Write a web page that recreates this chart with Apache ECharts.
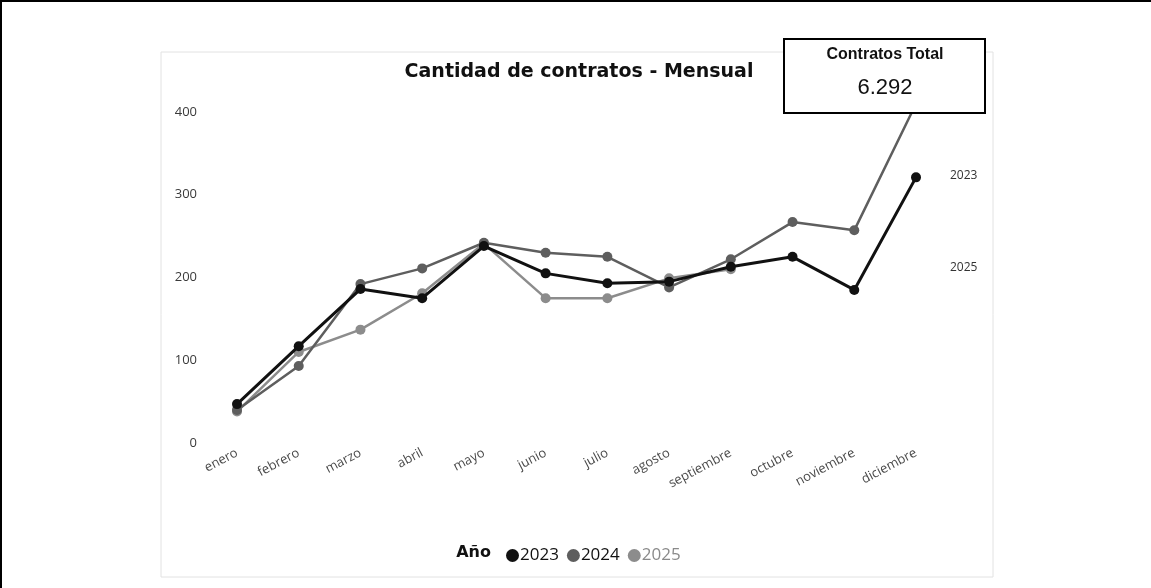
<!DOCTYPE html>
<html>
<head>
<meta charset="utf-8">
<script src="https://cdn.jsdelivr.net/npm/echarts@6/dist/echarts.min.js"></script>
<style>
  html, body { margin: 0; padding: 0; background: #fff; }
  #chart { width: 1151px; height: 588px; }
</style>
</head>
<body>
<div id="chart"></div>
<script>
// Contratos por mes, por año
const months = ['enero', 'febrero', 'marzo', 'abril', 'mayo', 'junio', 'julio',
  'agosto', 'septiembre', 'octubre', 'noviembre', 'diciembre'];
const years = ['2023', '2024', '2025'];
const values2023 = [47, 117, 186, 175, 238, 205, 193, 195, 213, 225, 185, 321];
const values2024 = [40, 93, 192, 211, 242, 230, 225, 188, 222, 267, 257, 410];
const values2025 = [38, 110, 137, 181, 241, 175, 175, 199, 210];
const yTicks = [0, 100, 200, 300, 400];
const totalLabel = 'Contratos Total';
const totalValue = '6.292';

const seriesValues = [values2023, values2024, values2025];
const colors = ['#111111', '#5e5e5e', '#8c8c8c'];
const widths = [3, 2.5, 2.5];
const font = '"Open Sans", "Noto Sans", sans-serif';

const chart = echarts.init(document.getElementById('chart'));

const option = {
  animation: false,
  backgroundColor: '#fff',
  grid: { left: 237, right: 235, top: 112, bottom: 145, containLabel: false },
  xAxis: {
    type: 'category',
    data: months,
    boundaryGap: false,
    axisLine: { show: false },
    axisTick: { show: false },
    axisLabel: {
      rotate: 28, margin: 9, color: '#4a4a4a', fontSize: 13, fontFamily: font
    },
    splitLine: { show: false }
  },
  yAxis: {
    type: 'value',
    min: yTicks[0],
    max: yTicks[yTicks.length - 1],
    interval: yTicks[1] - yTicks[0],
    axisLine: { show: false },
    axisTick: { show: false },
    splitLine: { show: false },
    axisLabel: { margin: 40, color: '#3a3a3a', fontSize: 13, fontFamily: font }
  },
  legend: {
    top: 542,
    left: 501,
    icon: 'circle',
    itemWidth: 13,
    itemHeight: 13,
    itemGap: 8,
    textStyle: { fontSize: 17, fontFamily: font, color: '#111', padding: [0, 0, 0, -4] },
    data: [
      { name: '2023' },
      { name: '2024' },
      { name: '2025', textStyle: { color: '#8a8a8a' } }
    ]
  },
  series: years.map((y, i) => ({
    name: y,
    type: 'line',
    data: seriesValues[i],
    clip: false,
    symbol: 'circle',
    symbolSize: 10,
    showAllSymbol: true,
    color: colors[i],
    lineStyle: { width: widths[i], color: colors[i] },
    itemStyle: { color: colors[i] },
    z: 10 - i
  }))
};
chart.setOption(option);

// Year names at the right edge, at the height of each series' last value
const endLabels = years.map((y, i) => {
  const vals = seriesValues[i];
  const py = chart.convertToPixel({ yAxisIndex: 0 }, vals[vals.length - 1]);
  return {
    type: 'text', left: 950, top: py - 8, z: 20,
    style: { text: y, fill: '#333', font: '12px ' + font }
  };
});

chart.setOption({
  graphic: [
    // outer frame (left and top edges)
    { type: 'line', shape: { x1: 1, y1: 0, x2: 1, y2: 588 }, style: { stroke: '#000', lineWidth: 2 }, z: 1 },
    { type: 'line', shape: { x1: 0, y1: 1, x2: 1151, y2: 1 }, style: { stroke: '#000', lineWidth: 2 }, z: 1 },
    // panel border
    { type: 'rect', shape: { x: 161, y: 52, width: 832, height: 525 },
      style: { fill: null, stroke: '#e2e2e2', lineWidth: 1 }, z: 1, silent: true },
    // chart title
    { type: 'text', x: 579, y: 72, z: 20,
      style: { text: 'Cantidad de contratos - Mensual', fill: '#111',
        font: 'bold 19px "DejaVu Sans", sans-serif', textAlign: 'center', textVerticalAlign: 'middle' } },
    // legend title
    { type: 'text', x: 491, y: 553, z: 20,
      style: { text: 'Año', fill: '#111', font: 'bold 16px "DejaVu Sans", sans-serif',
        textAlign: 'right', textVerticalAlign: 'middle' } },
    ...endLabels,
    // total card
    { type: 'rect', shape: { x: 784, y: 39, width: 201, height: 74 },
      style: { fill: '#fff', stroke: '#000', lineWidth: 2 }, z: 30 },
    { type: 'text', x: 885, y: 55, z: 31,
      style: { text: totalLabel, fill: '#111', font: 'bold 16px "Liberation Sans", Arial, sans-serif',
        textAlign: 'center', textVerticalAlign: 'middle' } },
    { type: 'text', x: 885, y: 88, z: 31,
      style: { text: totalValue, fill: '#111', font: '22px "Liberation Sans", Arial, sans-serif',
        textAlign: 'center', textVerticalAlign: 'middle' } }
  ]
});
</script>
</body>
</html>
